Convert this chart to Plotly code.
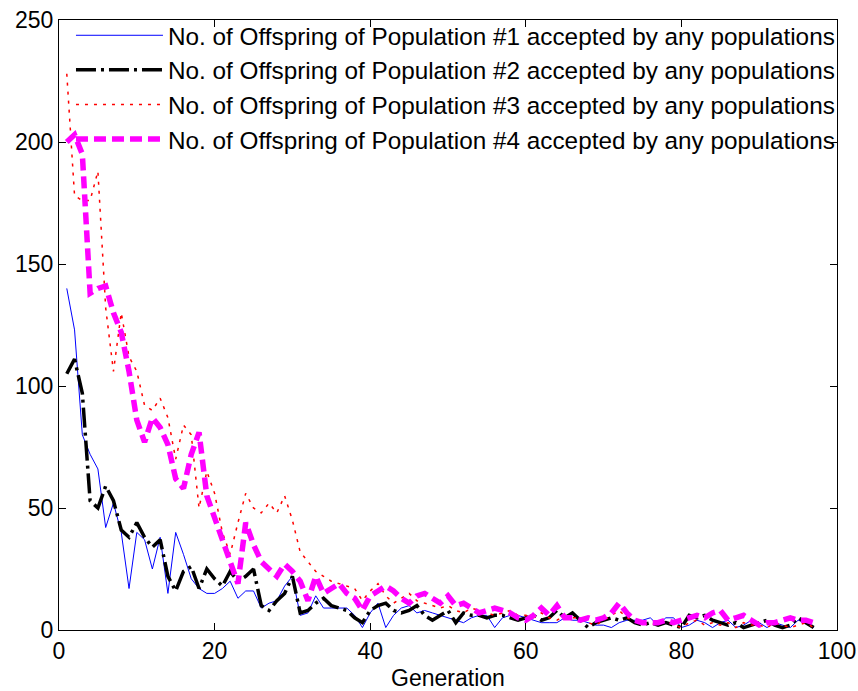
import plotly.graph_objects as go

generations = list(range(1, 98))

pop1 = [140, 123, 80, 72, 66, 42, 52, 40, 17, 40, 37, 25, 38, 15, 40, 31, 21, 17, 15, 15,
        17, 20, 13, 16, 16, 9, 11, 12, 18, 22, 6, 7, 14, 9, 9, 9, 9, 6, 1, 7,
        11, 1, 6, 9, 10, 7, 8, 7, 6, 5, 4, 3, 5, 6, 6, 1, 5, 6, 6, 5,
        4, 3, 3, 3, 5, 4, 4, 3, 2, 2, 1, 3, 4, 4, 4, 5, 2, 5, 5, 1,
        2, 4, 3, 1, 3, 4, 1, 2, 4, 3, 1, 3, 2, 1, 4, 3, 1]

pop2 = [105, 111, 97, 53, 50, 59, 53, 41, 38, 44, 38, 34, 37, 22, 16, 24, 26, 17, 25, 21,
        18, 24, 20, 22, 25, 10, 8, 12, 15, 22, 7, 8, 11, 13, 10, 9, 8, 5, 3, 8,
        10, 11, 8, 7, 8, 10, 6, 4, 6, 8, 3, 7, 6, 6, 5, 6, 6, 5, 4, 5,
        6, 4, 5, 8, 5, 7, 4, 1, 3, 4, 5, 4, 5, 3, 2, 3, 2, 3, 2, 1,
        6, 5, 6, 4, 3, 2, 3, 1, 2, 3, 4, 2, 1, 2, 5, 3, 1]

pop3 = [228, 178, 176, 176, 188, 132, 106, 130, 112, 106, 92, 90, 95, 87, 70, 84, 80, 50, 65, 56,
        40, 31, 44, 56, 50, 48, 52, 48, 55, 45, 32, 28, 24, 22, 20, 19, 18, 17, 12, 16,
        19, 14, 11, 13, 15, 12, 11, 10, 9, 10, 8, 7, 9, 8, 7, 6, 7, 8, 6, 6,
        5, 7, 5, 4, 6, 5, 5, 3, 2, 4, 6, 8, 5, 4, 3, 2, 3, 4, 2, 1,
        3, 4, 2, 3, 2, 3, 1, 3, 2, 2, 1, 3, 2, 1, 2, 3, 1]

pop4 = [200, 203, 195, 138, 140, 141, 130, 122, 106, 86, 77, 87, 83, 76, 62, 58, 72, 81, 55, 46,
        38, 28, 19, 44, 35, 28, 25, 22, 27, 24, 20, 12, 22, 15, 17, 19, 15, 13, 8, 14,
        16, 18, 16, 13, 11, 14, 15, 13, 11, 14, 10, 11, 9, 7, 8, 9, 8, 7, 5, 4,
        6, 9, 6, 10, 5, 5, 4, 5, 4, 5, 7, 11, 7, 4, 3, 3, 3, 4, 3, 4,
        5, 6, 5, 7, 8, 4, 5, 6, 4, 2, 3, 3, 4, 5, 4, 4, 3]

names = [
    "No. of Offspring of Population #1 accepted by any populations",
    "No. of Offspring of Population #2 accepted by any populations",
    "No. of Offspring of Population #3 accepted by any populations",
    "No. of Offspring of Population #4 accepted by any populations",
]

x_ticks = [0, 20, 40, 60, 80, 100]
y_ticks = [0, 50, 100, 150, 200, 250]

FONT = "Liberation Sans, Arial, sans-serif"

fig = go.Figure()
fig.add_trace(go.Scatter(x=generations, y=pop1, mode="lines", name=names[0], legendgroup="a",
                         line=dict(color="#0000FF", width=1)))
fig.add_trace(go.Scatter(x=generations, y=pop2, mode="lines", name=names[1], legendgroup="b",
                         line=dict(color="#000000", width=3.5, dash="20px,5px,3px,5px")))
fig.add_trace(go.Scatter(x=generations, y=pop3, mode="lines", name=names[2], legendgroup="c",
                         line=dict(color="#FF0000", width=1.5, dash="3px,6px")))
fig.add_trace(go.Scatter(x=generations, y=pop4, mode="lines", name=names[3], legendgroup="d",
                         line=dict(color="#FF00FF", width=5.5, dash="12px,6px")))

axis_common = dict(showline=True, linecolor="black", linewidth=1, mirror="ticks",
                   ticks="inside", ticklen=7, tickwidth=1, tickcolor="black",
                   showgrid=False, zeroline=False, automargin=False,
                   tickfont=dict(family=FONT, size=23, color="black"))

fig.update_xaxes(range=[0, 100], tickvals=x_ticks, ticktext=[str(v) for v in x_ticks],
                 title=dict(text="Generation", font=dict(family=FONT, size=23, color="black"),
                            standoff=13),
                 **axis_common)
fig.update_yaxes(range=[0, 250], tickvals=y_ticks, ticktext=[str(v) for v in y_ticks],
                 **axis_common)

fig.update_layout(
    width=858, height=691,
    margin=dict(l=59, r=21, t=20, b=61),
    paper_bgcolor="white", plot_bgcolor="white",
    showlegend=True,
    legend=dict(x=0.0154, y=1.0115, xanchor="left", yanchor="top",
                bgcolor="rgba(0,0,0,0)", borderwidth=0,
                font=dict(family=FONT, size=24.3, color="black"),
                itemwidth=87, tracegroupgap=4, traceorder="normal"),
)

fig.write_html("out.html")
